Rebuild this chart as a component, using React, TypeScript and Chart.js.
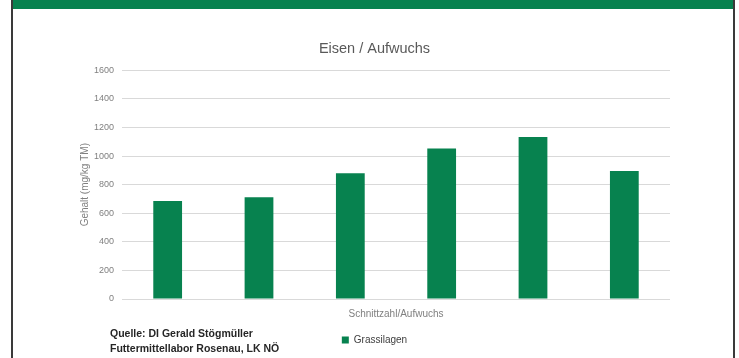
import React, { useEffect, useRef } from "react";
import { Chart, registerables } from "chart.js";

Chart.register(...registerables);

const categories = ["1. Aufwuchs", "2. Aufwuchs", "3. Aufwuchs", "4. Aufwuchs", "5. Aufwuchs", "6. Aufwuchs"];
const grassilagen = [686, 712, 881, 1053, 1133, 896];
const seriesName = "Grassilagen";
const chartTitle = "Eisen / Aufwuchs";
const yTitle = "Gehalt (mg/kg TM)";
const xTitle = "Schnittzahl/Aufwuchs";
const sourceLines = ["Quelle: DI Gerald Stögmüller", "Futtermittellabor Rosenau, LK NÖ"];

const GREEN = "#07824f";
const FONT = "'Liberation Sans', Arial, sans-serif";

export default function App() {
  const ref = useRef<HTMLCanvasElement | null>(null);

  useEffect(() => {
    if (!ref.current) return;
    const chart = new Chart(ref.current, {
      type: "bar",
      data: {
        labels: categories,
        datasets: [
          {
            label: seriesName,
            data: grassilagen,
            backgroundColor: GREEN,
            borderWidth: 0,
            categoryPercentage: 1,
            barPercentage: 0.315,
          },
        ],
      },
      options: {
        responsive: false,
        animation: false,
        layout: { padding: { left: 79, right: 69, top: 0, bottom: 0 } },
        plugins: {
          title: {
            display: true,
            text: chartTitle,
            color: "#595959",
            font: { family: FONT, size: 14.5, weight: "normal" },
            padding: { top: 40, bottom: 13 },
          },
          legend: {
            display: true,
            position: "bottom",
            labels: {
              boxWidth: 7,
              boxHeight: 7,
              color: "#404040",
              font: { family: FONT, size: 10 },
              padding: 10,
            },
          },
          tooltip: { enabled: false },
        },
        scales: {
          x: {
            grid: { display: false, drawTicks: false },
            border: { display: false },
            ticks: { display: false },
            title: {
              display: true,
              text: xTitle,
              color: "#808080",
              font: { family: FONT, size: 10 },
              padding: { top: 0, bottom: 5 },
            },
            afterFit: (s: any) => {
              s.height = 26;
            },
          },
          y: {
            min: 0,
            max: 1600,
            ticks: {
              stepSize: 200,
              color: "#808080",
              font: { family: FONT, size: 9 },
              padding: 8,
              callback: (v: any) => String(v),
            },
            grid: { color: "#d9d9d9", drawTicks: false, lineWidth: 1 },
            border: { display: false },
            title: {
              display: true,
              text: yTitle,
              color: "#808080",
              font: { family: FONT, size: 10 },
              padding: { top: 0, bottom: 0 },
            },
            afterFit: (s: any) => {
              s.width = 43;
            },
          },
        },
      },
    });
    return () => chart.destroy();
  }, []);

  return (
    <div
      style={{
        position: "absolute",
        left: 0,
        top: 0,
        width: 739,
        height: 358,
        overflow: "hidden",
        background: "#fff",
      }}
    >
      <canvas
        ref={ref}
        width={739}
        height={355}
        style={{ position: "absolute", left: 0, top: 0, width: 739, height: 355 }}
      />
      <div style={{ position: "absolute", left: 12, top: 0, width: 721, height: 9, background: GREEN }} />
      <div style={{ position: "absolute", left: 11, top: 0, width: 1.5, height: 358, background: "#3a3a3a" }} />
      <div style={{ position: "absolute", left: 733, top: 0, width: 1.5, height: 358, background: "#3a3a3a" }} />
      <div
        style={{
          position: "absolute",
          left: 110,
          top: 326,
          fontFamily: FONT,
          fontWeight: "bold",
          fontSize: 10.5,
          lineHeight: "15px",
          color: "#262626",
          whiteSpace: "nowrap",
        }}
      >
        {sourceLines.map((l) => (
          <div key={l}>{l}</div>
        ))}
      </div>
    </div>
  );
}
